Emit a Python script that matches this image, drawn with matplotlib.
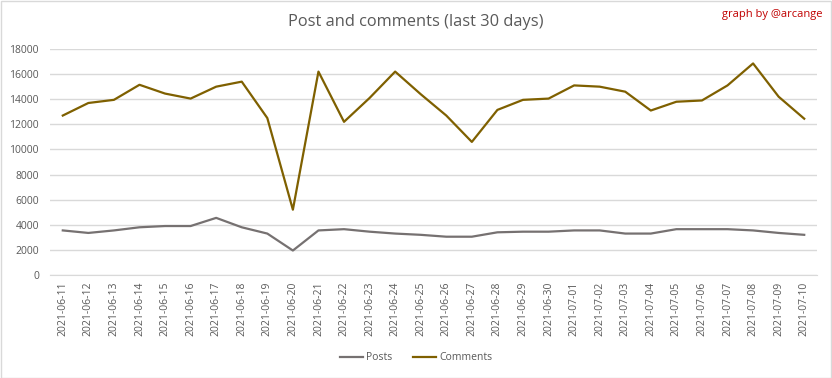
import matplotlib.pyplot as plt
from matplotlib.patches import Rectangle

dates = ['2021-06-11', '2021-06-12', '2021-06-13', '2021-06-14', '2021-06-15',
         '2021-06-16', '2021-06-17', '2021-06-18', '2021-06-19', '2021-06-20',
         '2021-06-21', '2021-06-22', '2021-06-23', '2021-06-24', '2021-06-25',
         '2021-06-26', '2021-06-27', '2021-06-28', '2021-06-29', '2021-06-30',
         '2021-07-01', '2021-07-02', '2021-07-03', '2021-07-04', '2021-07-05',
         '2021-07-06', '2021-07-07', '2021-07-08', '2021-07-09', '2021-07-10']

posts = [3550, 3350, 3550, 3800, 3900, 3900, 4550, 3800, 3300, 1950,
         3550, 3650, 3450, 3300, 3200, 3050, 3050, 3400, 3450, 3450,
         3550, 3550, 3300, 3300, 3650, 3650, 3650, 3550, 3350, 3200]

comments = [12700, 13700, 13950, 15150, 14450, 14050, 15000, 15400, 12500, 5200,
            16200, 12200, 14100, 16200, 14400, 12700, 10600, 13150, 13950, 14050,
            15100, 15000, 14600, 13100, 13800, 13900, 15100, 16850, 14200, 12450]

yticks = [0, 2000, 4000, 6000, 8000, 10000, 12000, 14000, 16000, 18000]

plt.rcParams['font.family'] = ['Open Sans', 'DejaVu Sans']

fig = plt.figure(figsize=(8.32, 3.78), dpi=100)
W, H = 832, 378
ax = fig.add_axes([50 / W, 1 - 275 / H, (817 - 50) / W, (275 - 49) / H])

x = list(range(len(dates)))
ax.plot(x, posts, color='#767171', lw=1.6, label='Posts')
ax.plot(x, comments, color='#7F6000', lw=1.6, label='Comments')

ax.set_xlim(-0.5, len(dates) - 0.5)
ax.set_ylim(0, 18000)
ax.set_yticks(yticks)
ax.set_xticks(x)
ax.set_xticklabels(dates, rotation=90, fontsize=7.5, color='#595959')
ax.tick_params(axis='y', labelsize=7.5, labelcolor='#595959', length=0, pad=8)
ax.tick_params(axis='x', length=0, pad=5)
ax.grid(axis='y', color='#d9d9d9', lw=1)
ax.set_axisbelow(True)
for s in ['top', 'right', 'left']:
    ax.spines[s].set_visible(False)
ax.spines['bottom'].set_color('#d9d9d9')

fig.text(0.5, 1 - 22 / H, 'Post and comments (last 30 days)', ha='center', va='center',
         fontsize=11.8, color='#595959')
fig.text(822 / W, 1 - 15 / H, 'graph by @arcange', ha='right', va='center',
         fontsize=8, color='#c00000')

fig.legend(loc='center', bbox_to_anchor=(0.5, 1 - 358 / H), ncol=2, frameon=False,
           fontsize=7.5, labelcolor='#595959', handlelength=2.2, columnspacing=2,
           handletextpad=0.3)

fig.patches.append(Rectangle((0.5 / W, 0.5 / H), 1 - 1.5 / W, 1 - 1.5 / H,
                             transform=fig.transFigure, fill=False,
                             edgecolor='#d9d9d9', lw=1))

fig.savefig('out.png', dpi=100)
